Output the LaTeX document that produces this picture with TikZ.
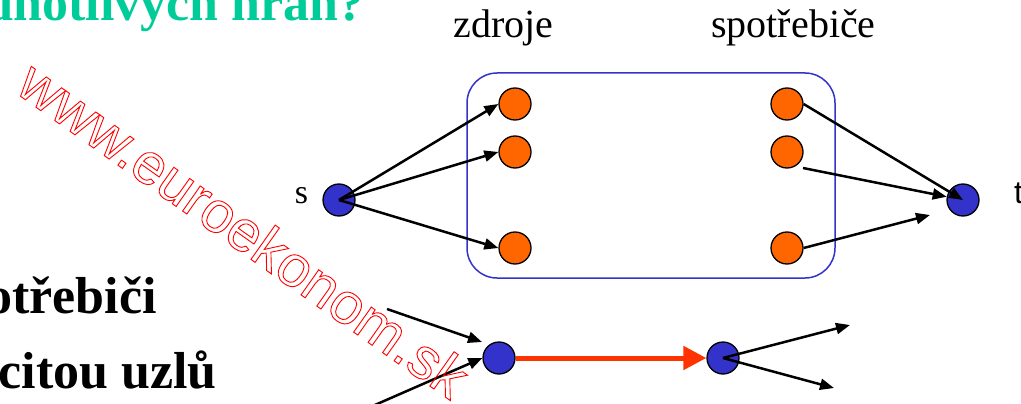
\documentclass[tikz,border=0pt]{standalone}
\usepackage{fontspec}
\setmainfont{Liberation Serif}
\newfontfamily\arialfont{Liberation Sans}
\usetikzlibrary{arrows.meta}
\definecolor{nodeblue}{RGB}{51,51,204}
\definecolor{nodeorange}{RGB}{255,102,0}
\definecolor{arrowred}{RGB}{255,51,0}
\definecolor{headgreen}{RGB}{0,204,153}
\definecolor{wmred}{RGB}{255,0,0}
\begin{document}
\begin{tikzpicture}[x=1pt,y=-1pt,
  dot/.style={circle, draw=black, line width=1.3pt, minimum size=32pt, inner sep=0pt},
  srcnode/.style={dot, fill=nodeorange},
  endnode/.style={dot, fill=nodeblue},
  arr/.style={draw=black, line width=2.5pt, -{Triangle[length=14pt,width=11pt]}},
  bigarr/.style={draw=arrowred, line width=5pt, -{Triangle[length=23pt,width=23pt]}},
  heading/.style={inner sep=0pt, anchor=base east, font=\bfseries\fontsize{52}{60}\selectfont},
  label/.style={inner sep=0pt, anchor=base, font=\fontsize{40}{48}\selectfont}]
\useasboundingbox (0,0) rectangle (1021,404);

% texts
\node[heading, text=headgreen] (h1) at (365,21) {jednotlivých hran?};
\node[heading, text=black] (h2) at (157,313) {spotřebiči};
\node[heading, text=black] (h3) at (217,388) {kapacitou uzlů};

% box
\node[draw=nodeblue, line width=1.5pt, rounded corners=30pt, minimum width=368pt, minimum height=205pt, inner sep=0pt] (box) at (651,175.5) {};
\node[label] (lz) at (503.5,38) {zdroje};
\node[label] (ls) at (793.5,38) {spotřebiče};

% nodes
\node[srcnode] (src1) at (515,104) {};
\node[srcnode] (src2) at (515,152) {};
\node[srcnode] (src3) at (515,248) {};
\node[srcnode] (con1) at (787,104) {};
\node[srcnode] (con2) at (787,152) {};
\node[srcnode] (con3) at (787,248) {};
\node[endnode] (s) at (339,200) {};
\node[endnode] (t) at (963,200) {};
\node[inner sep=0pt, anchor=base, font=\fontsize{34}{40}\selectfont] (ls2) at (301.5,203) {s};
\node[inner sep=0pt, anchor=base west, font=\arialfont\fontsize{32}{38}\selectfont] (lt) at (1014,203) {t};

\coordinate (c2s) at (803,168);
\coordinate (t3) at (930,215);

\draw[arr] (s.center) -- (src1.west);
\draw[arr] (s.center) -- (src2.west);
\draw[arr] (s.center) -- (src3.west);
\draw[arr] (con1.east) -- (t.center);
\draw[arr] (c2s) -- (t);
\draw[arr] (con3.east) -- (t3);

% bottom
\node[endnode] (u) at (499,358) {};
\node[endnode] (v) at (723,358) {};
\coordinate (in1) at (387,309);
\coordinate (in1e) at (482,342);
\coordinate (in2) at (368,408);
\coordinate (out1) at (850,325);
\coordinate (out2) at (834,388);
\draw[bigarr] (u) -- (v);
\draw[arr] (in1) -- (in1e);
\draw[arr] (in2) -- (u.west);
\draw[arr] (v.center) -- (out1);
\draw[arr] (v.center) -- (out2);

% watermark
\node[rotate=-35.3, anchor=base, text=wmred, inner sep=0pt, font=\arialfont\fontsize{58}{60}\selectfont] (wm) at (232,246) {\special{pdf:literal direct 1 Tr 0.9 w}www.euroekonom.sk\special{pdf:literal direct 0 Tr}};
\end{tikzpicture}
\end{document}
